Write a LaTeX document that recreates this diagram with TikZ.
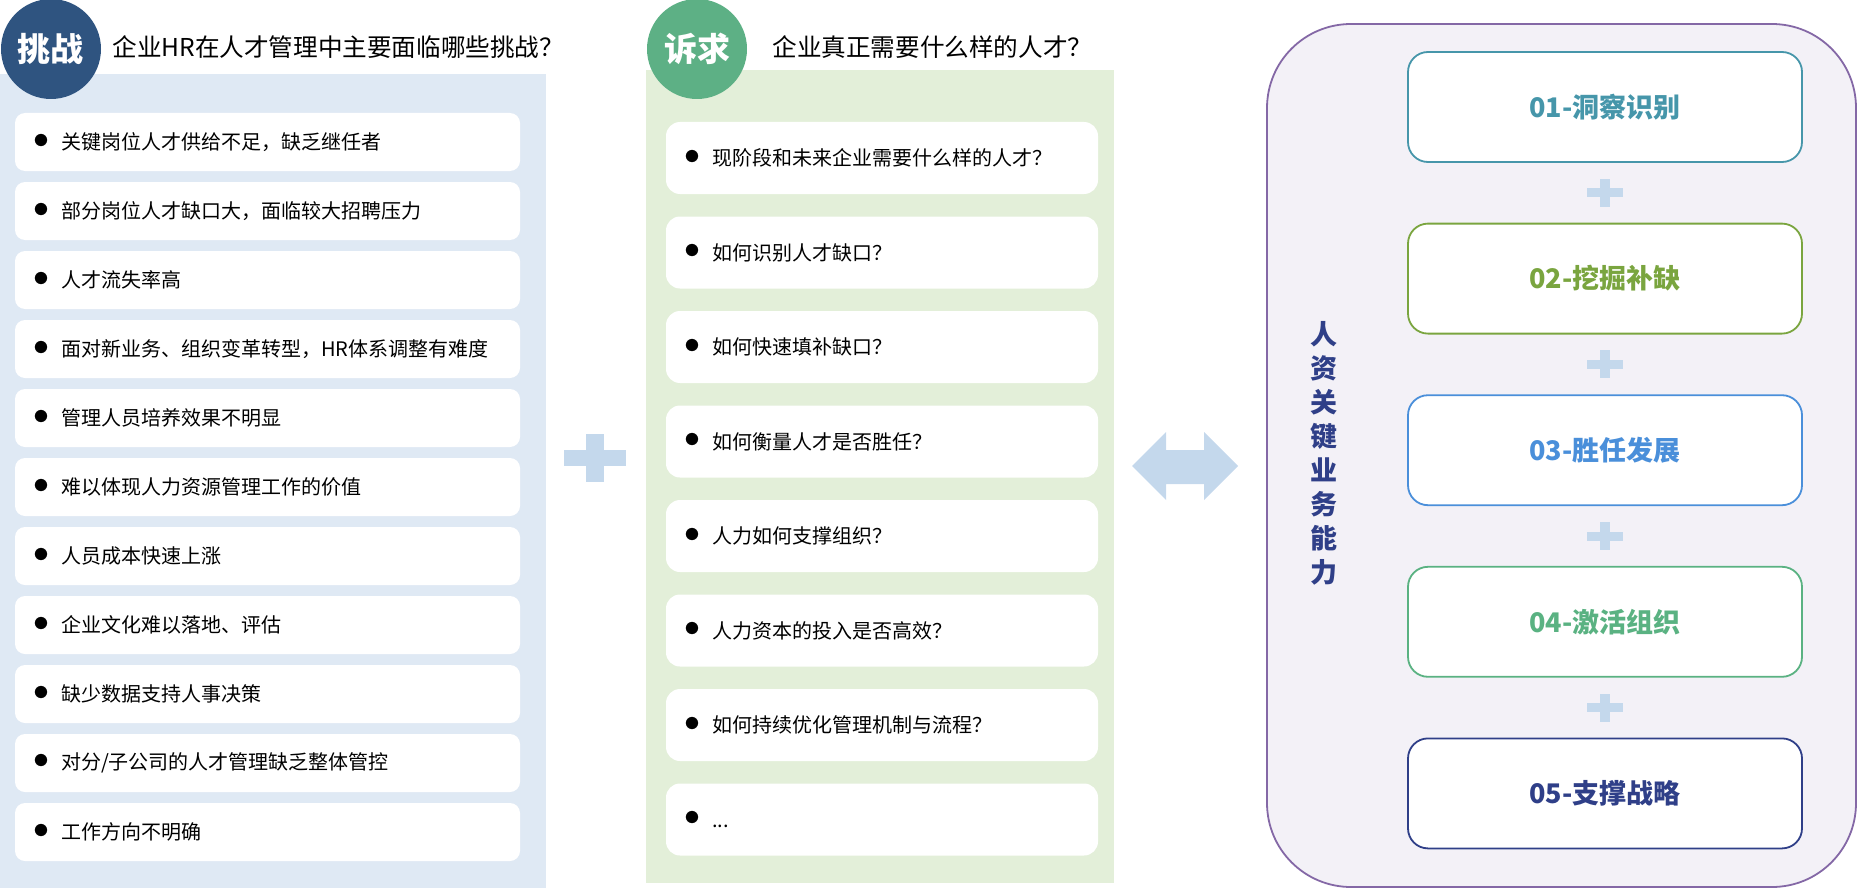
\documentclass[tikz,border=0pt]{standalone}
\usepackage{fontspec}
\setmainfont{Noto Sans CJK SC}
\usetikzlibrary{positioning}

\definecolor{bluebg}{HTML}{DFE9F4}
\definecolor{greenbg}{HTML}{E3EFD9}
\definecolor{capbg}{HTML}{F3F1F7}
\definecolor{capline}{HTML}{8468A6}
\definecolor{tzblue}{HTML}{2F5480}
\definecolor{sqgreen}{HTML}{5DB085}
\definecolor{plusblue}{HTML}{C4D8EC}
\definecolor{capA}{HTML}{4696AA}
\definecolor{capB}{HTML}{7AA53F}
\definecolor{capC}{HTML}{4A8FDA}
\definecolor{capD}{HTML}{5AB282}
\definecolor{capE}{HTML}{2F3F88}

\newcommand{\bul}{\raisebox{0.6pt}{\scalebox{1.6}{$\bullet$}}\hspace{6pt}}

\tikzset{plusmark/.pic={
	\fill[plusblue] (-18,-4.5) rectangle (18,4.5);
	\fill[plusblue] (-5,-14) rectangle (5,14);
}}

\begin{document}
\begin{tikzpicture}[x=0.5pt,y=-0.5pt,
	challenge/.style={fill=white, rounded corners=5pt, text width=234.5pt, inner xsep=9pt, minimum height=29pt, align=left, font=\fontsize{10pt}{12pt}\selectfont},
	ask/.style={challenge, rounded corners=7pt, text width=198pt, minimum height=36pt},
	badge/.style={circle, minimum size=50pt, inner sep=0pt, text=white, font=\fontsize{16.5pt}{18pt}\selectfont\bfseries},
	headline/.style={anchor=west, inner sep=0pt, font=\fontsize{12.3pt}{14pt}\selectfont},
	stage/.style={draw=#1, text=#1, fill=white, line width=0.9pt, rounded corners=10pt, minimum width=197pt, minimum height=55pt, font=\fontsize{13.5pt}{16pt}\selectfont\bfseries}
	]
	\useasboundingbox (0,0) rectangle (1858,888);

	% panels
	\fill[bluebg] (0,74) rectangle (546,888);
	\fill[greenbg] (646,70) rectangle (1114,883);
	\filldraw[fill=capbg, draw=capline, line width=0.9pt, rounded corners=42pt] (1267,24) rectangle (1856,887);

	\node[badge, fill=tzblue] (tz) at (51,49) {挑战};
	\node[headline] (tzq) at (112,47) {企业HR在人才管理中主要面临哪些挑战？};
	\node[badge, fill=sqgreen] (sq) at (697,49) {诉求};
	\node[headline] (sqq) at (772,47) {企业真正需要什么样的人才？};

	\node[challenge] (c1) at (267.5,142) {\bul 关键岗位人才供给不足，缺乏继任者};
	\node[challenge, below=5.1pt of c1] (c2) {\bul 部分岗位人才缺口大，面临较大招聘压力};
	\node[challenge, below=5.1pt of c2] (c3) {\bul 人才流失率高};
	\node[challenge, below=5.1pt of c3] (c4) {\bul 面对新业务、组织变革转型，HR体系调整有难度};
	\node[challenge, below=5.1pt of c4] (c5) {\bul 管理人员培养效果不明显};
	\node[challenge, below=5.1pt of c5] (c6) {\bul 难以体现人力资源管理工作的价值};
	\node[challenge, below=5.1pt of c6] (c7) {\bul 人员成本快速上涨};
	\node[challenge, below=5.1pt of c7] (c8) {\bul 企业文化难以落地、评估};
	\node[challenge, below=5.1pt of c8] (c9) {\bul 缺少数据支持人事决策};
	\node[challenge, below=5.1pt of c9] (c10) {\bul 对分/子公司的人才管理缺乏整体管控};
	\node[challenge, below=5.1pt of c10] (c11) {\bul 工作方向不明确};

	\node[ask] (a1) at (882,158) {\bul 现阶段和未来企业需要什么样的人才？};
	\node[ask, below=10.85pt of a1] (a2) {\bul 如何识别人才缺口？};
	\node[ask, below=10.85pt of a2] (a3) {\bul 如何快速填补缺口？};
	\node[ask, below=10.85pt of a3] (a4) {\bul 如何衡量人才是否胜任？};
	\node[ask, below=10.85pt of a4] (a5) {\bul 人力如何支撑组织？};
	\node[ask, below=10.85pt of a5] (a6) {\bul 人力资本的投入是否高效？};
	\node[ask, below=10.85pt of a6] (a7) {\bul 如何持续优化管理机制与流程？};
	\node[ask, below=10.85pt of a7] (a8) {\bul ...};

	\pic[scale=1.72] at (595,458) {plusmark};
	\fill[plusblue] (1132,466) -- (1166,432) -- (1166,450) -- (1204,450) -- (1204,432) -- (1238,466)
		-- (1204,500) -- (1204,484) -- (1166,484) -- (1166,500) -- cycle;

	\node[text=capE, align=center, font=\fontsize{13.5pt}{17pt}\selectfont\bfseries] (cap) at (1324,453)
		{人\\资\\关\\键\\业\\务\\能\\力};

	\node[stage=capA] (s1) at (1605,107) {01-洞察识别};
	\node[stage=capB, below=29.9pt of s1] (s2) {02-挖掘补缺};
	\node[stage=capC, below=29.9pt of s2] (s3) {03-胜任发展};
	\node[stage=capD, below=29.9pt of s3] (s4) {04-激活组织};
	\node[stage=capE, below=29.9pt of s4] (s5) {05-支撑战略};

	\path (s1) -- (s2) pic[pos=.5] {plusmark};
	\path (s2) -- (s3) pic[pos=.5] {plusmark};
	\path (s3) -- (s4) pic[pos=.5] {plusmark};
	\path (s4) -- (s5) pic[pos=.5] {plusmark};

\end{tikzpicture}
\end{document}
